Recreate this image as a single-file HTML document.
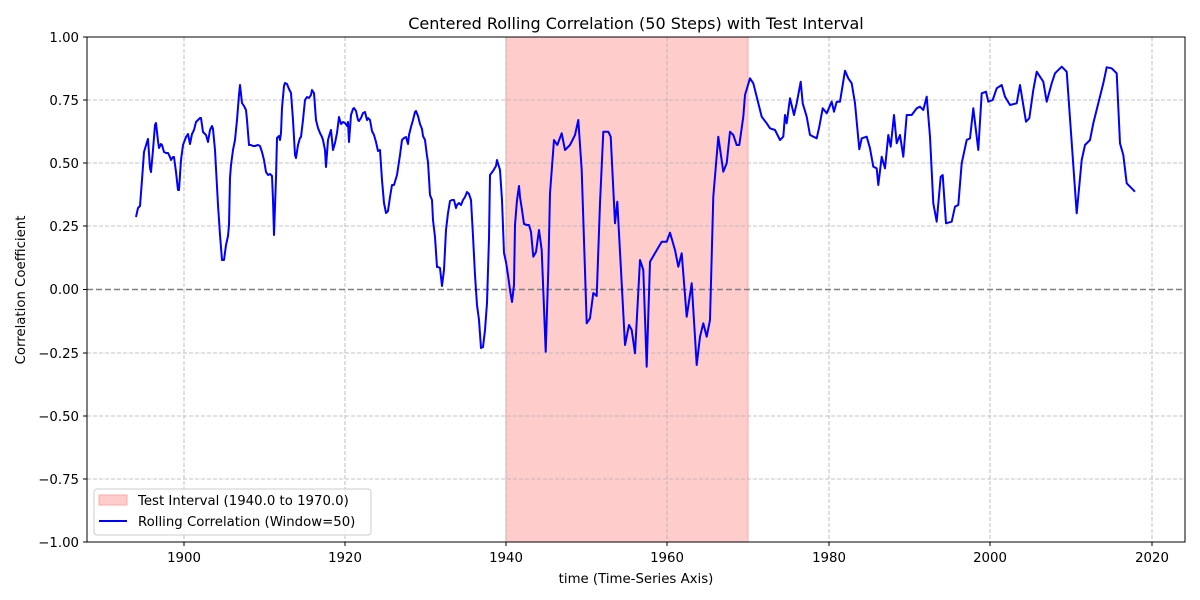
<!DOCTYPE html>
<html><head><meta charset="utf-8"><style>body{margin:0;background:#fff}svg{display:block;font-family:"DejaVu Sans","Liberation Sans",sans-serif}</style></head><body>
<svg width="1200" height="600" viewBox="0 0 1200 600" xmlns="http://www.w3.org/2000/svg">
<rect x="506" y="37" width="242" height="505" fill="#ffcccc"/>
<line x1="506" y1="37" x2="506" y2="542" stroke="#ffaaaa"/><line x1="748" y1="37" x2="748" y2="542" stroke="#ffaaaa"/>
<g stroke="#b0b0b0" stroke-dasharray="4,2" stroke-width="0.8">
<line x1="184" y1="37" x2="184" y2="542"/><line x1="345" y1="37" x2="345" y2="542"/><line x1="506" y1="37" x2="506" y2="542"/><line x1="667" y1="37" x2="667" y2="542"/><line x1="829" y1="37" x2="829" y2="542"/><line x1="990" y1="37" x2="990" y2="542"/><line x1="1152" y1="37" x2="1152" y2="542"/>
<line x1="87" y1="100" x2="1185" y2="100"/><line x1="87" y1="163" x2="1185" y2="163"/><line x1="87" y1="226" x2="1185" y2="226"/><line x1="87" y1="353" x2="1185" y2="353"/><line x1="87" y1="416" x2="1185" y2="416"/><line x1="87" y1="479" x2="1185" y2="479"/>
</g>
<line x1="87" y1="289.5" x2="1185" y2="289.5" stroke="#808080" stroke-width="1.5" stroke-dasharray="6,3"/>
<polyline fill="none" stroke="#0000ff" stroke-width="2" stroke-linejoin="round" points="136,217 138,208 140,206 142,180 144,152 147,142 148,139 150,168 151,172 153,150 155,125 156,123 158,141 159,148 161,144 162,145 164,152 166,153 168,153 170,157 171,160 173,157 174,157 176,172 178,190 179,190 181,160 183,145 186,137 188,134 190,144 192,134 194,130 196,122 198,120 200,118 201,118 203,132 206,135 208,142 210,130 212,126 213,129 215,150 218,205 220,235 222,260 224,260 226,245 228,236 229,225 230,178 231,165 233,150 235,140 237,120 239,95 240,85 242,103 244,106 246,110 247,120 249,145 251,145 253,146 255,146 258,145 260,146 262,152 264,160 266,172 268,175 270,174 272,176 273,200 274,235 276,178 277,138 279,136 280,140 281,133 282,108 284,86 285,83 287,84 289,89 291,93 293,120 295,155 296,158 298,145 300,138 301,137 303,120 305,100 307,97 309,98 311,95 312,90 314,93 316,120 318,128 320,133 322,137 323,140 325,150 326,167 328,140 330,133 331,130 333,150 335,143 337,133 339,117 341,124 343,122 345,123 347,126 348,122 349,142 351,115 353,109 354,108 356,111 358,120 359,121 361,118 363,113 365,112 367,120 368,118 370,120 372,131 374,135 376,142 378,151 380,150 382,180 384,203 386,213 388,211 390,197 392,185 394,185 397,175 400,155 402,140 404,138 406,137 408,144 409,135 411,127 413,120 415,112 416,111 418,116 420,124 422,129 423,136 425,140 427,156 428,162 430,195 432,200 433,220 435,237 437,267 438,267 440,268 442,286 444,270 446,230 448,213 450,201 452,200 454,200 456,208 457,205 459,203 461,205 463,200 465,197 467,192 469,194 471,200 473,236 475,275 477,305 479,320 481,348 483,347 485,330 487,303 489,238 490,175 493,171 496,166 497,160 500,170 502,200 504,253 506,262 508,275 510,290 512,302 514,285 515,225 517,200 519,186 520,197 522,210 524,224 527,225 529,225 531,232 533.3,256.7 536,252 539,230 541.7,250 545.7,351.7 548.3,270 550,193.3 554,140 557.3,145 561.7,133.3 565,150 570,145 575,135 578.3,120 581.7,170 586.7,323.3 590,318.3 593.3,293 596.7,296 600,203.3 603.3,131.7 608.3,131.7 610.7,136.7 615,223.3 617.3,201.7 621.7,283.3 625,345 629,325 631.7,330 635,353.3 640,260 643.3,270 646.7,366.7 650,261.7 661.7,241.7 666.7,241.7 670,232.7 675,250 678.3,266.7 681.7,253.3 686.7,316.7 691.7,283.3 696.7,365 700,336.7 703.3,323.3 706.7,336.7 710,320 713.3,196.7 718.3,136.7 723.3,171.7 726.7,163.3 730,131.7 733.3,135 736.7,145 739.3,145 743.3,116.7 745,95 750,78.3 753.3,83.3 756.7,96.7 761.7,116.7 766.7,123.3 770,128.3 775,130 780,140 783.3,136.7 785,115 786.7,123.3 790,98.3 794,115 796.7,103.3 800.7,81.7 802.7,103.3 806.7,116.7 810,135 816.7,138.3 819.3,126.7 822.7,108.3 826.7,113.3 831.7,101.7 834,111.7 836.7,101.7 840,101.7 845,70.7 848.3,78.3 851.7,83.3 855,103.3 859.3,149.3 861.7,138.3 866.7,136.7 870,148.3 873.3,166.7 876.7,168.3 878.3,185 881.7,156.7 885,168.3 888.3,135 890.7,146.7 894,115 896.7,143.3 900,135 903.3,156.7 906.7,115 911.7,115 916.7,108.3 920,106.7 923.3,110 926.7,96.7 930,136.7 933.3,203.3 936.7,221.7 940.7,176.7 942.7,175 946,223.3 951.7,221.7 955,206.7 958.3,205 961.7,163.3 966.7,140 970,138.3 973.3,108.3 978.3,150 981.7,93.3 986,91.7 988.3,101.7 992.7,100 996.7,88.3 1001.7,85 1005,96.7 1010,105 1016.7,103.3 1020,85 1026,121.7 1029.3,118.3 1033.3,90 1036.7,71.7 1043.3,81.7 1046.7,101.7 1051.7,83.3 1055,73.3 1061.7,66.7 1066.7,71.7 1076.7,213.3 1081.7,160 1085,145 1090,140 1093.3,123.3 1098.3,103.3 1103.3,83.3 1106.7,67.3 1111.7,68.3 1116.7,73.3 1120,143.3 1123.3,155 1126.7,183.3 1131.7,188.3 1135,191.7"/>
<rect x="87" y="37" width="1098" height="505" fill="none" stroke="#000" stroke-width="1"/>
<g stroke="#000"><line x1="184" y1="542" x2="184" y2="546"/><line x1="345" y1="542" x2="345" y2="546"/><line x1="506" y1="542" x2="506" y2="546"/><line x1="667" y1="542" x2="667" y2="546"/><line x1="829" y1="542" x2="829" y2="546"/><line x1="990" y1="542" x2="990" y2="546"/><line x1="1152" y1="542" x2="1152" y2="546"/>
<line x1="83" y1="37" x2="87" y2="37"/><line x1="83" y1="100" x2="87" y2="100"/><line x1="83" y1="163" x2="87" y2="163"/><line x1="83" y1="226" x2="87" y2="226"/><line x1="83" y1="289.5" x2="87" y2="289.5"/><line x1="83" y1="353" x2="87" y2="353"/><line x1="83" y1="416" x2="87" y2="416"/><line x1="83" y1="479" x2="87" y2="479"/><line x1="83" y1="542" x2="87" y2="542"/></g>
<g font-size="13.3" text-anchor="middle" fill="#000"><text x="184" y="562">1900</text><text x="345" y="562">1920</text><text x="506" y="562">1940</text><text x="667" y="562">1960</text><text x="829" y="562">1980</text><text x="990" y="562">2000</text><text x="1152" y="562">2020</text></g>
<g font-size="13.3" text-anchor="end" fill="#000"><text x="79" y="42">1.00</text><text x="79" y="105">0.75</text><text x="79" y="168">0.50</text><text x="79" y="231">0.25</text><text x="79" y="294">0.00</text><text x="79" y="358">−0.25</text><text x="79" y="421">−0.50</text><text x="79" y="484">−0.75</text><text x="79" y="547">−1.00</text></g>
<text x="636" y="29" font-size="16" text-anchor="middle">Centered Rolling Correlation (50 Steps) with Test Interval</text>
<text x="636" y="583" font-size="13.3" text-anchor="middle">time (Time-Series Axis)</text>
<text x="25" y="290" font-size="13.3" text-anchor="middle" transform="rotate(-90 25 290)">Correlation Coefficient</text>
<rect x="94" y="489" width="277" height="46" rx="3" fill="#fff" fill-opacity="0.8" stroke="#ccc"/>
<rect x="99" y="495" width="28" height="10" fill="#ffcccc" stroke="#ffaaaa"/>
<text x="138" y="505" font-size="13.3">Test Interval (1940.0 to 1970.0)</text>
<line x1="99" y1="521" x2="127" y2="521" stroke="#0000ff" stroke-width="2"/>
<text x="138" y="526" font-size="13.3">Rolling Correlation (Window=50)</text>
</svg>
</body></html>
